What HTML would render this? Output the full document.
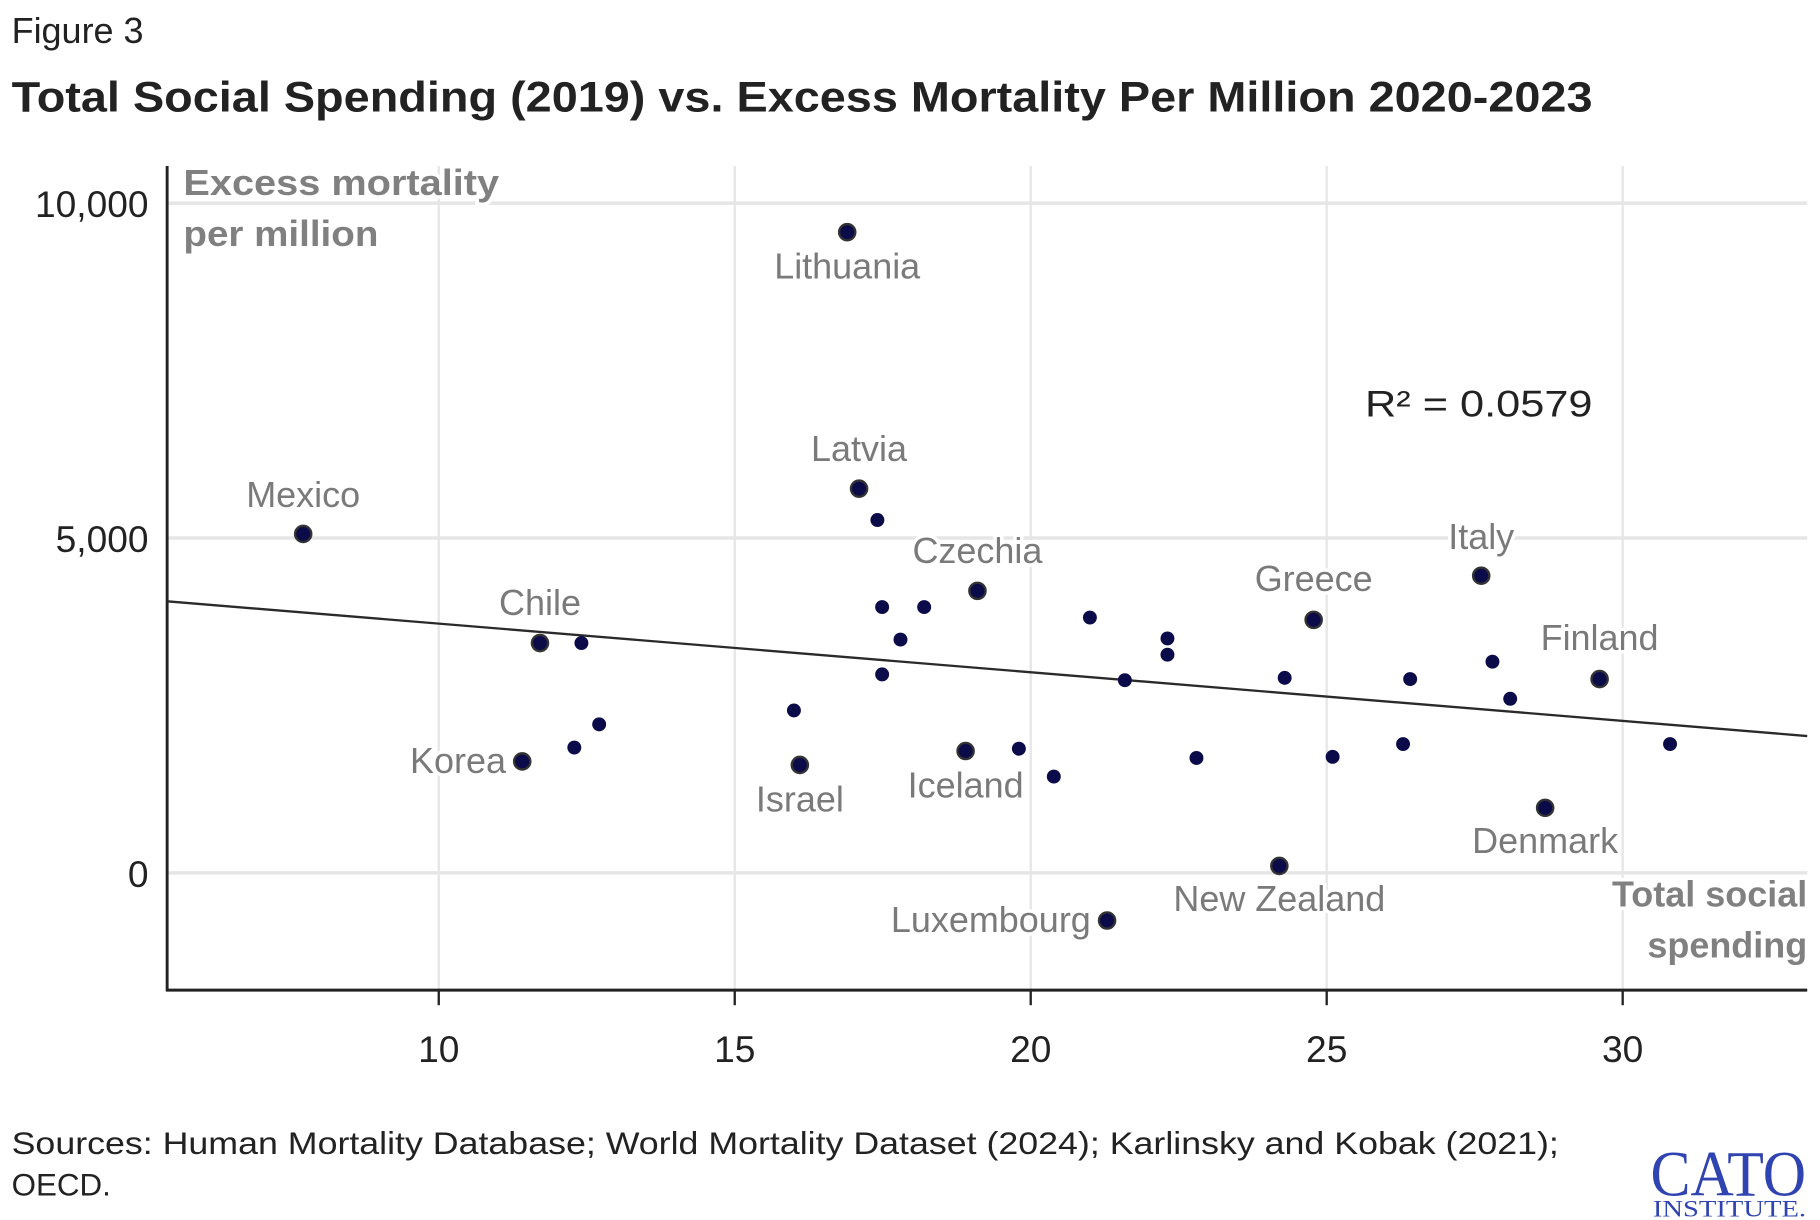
<!DOCTYPE html>
<html><head><meta charset="utf-8"><style>
html,body{margin:0;padding:0;background:#fff;}
svg{display:block;}
text{font-family:"Liberation Sans",sans-serif;}
.lbl{fill:#7a7a7a;font-size:31px;stroke:#fff;stroke-width:6px;paint-order:stroke;stroke-linejoin:round;}
.tick{fill:#222;font-size:32px;}
.axt{fill:#808080;font-size:31px;font-weight:bold;stroke:#fff;stroke-width:6px;paint-order:stroke;}
</style></head><body>
<svg id="chart" width="1820" height="1220" viewBox="0 0 1568 1051" xmlns="http://www.w3.org/2000/svg">
<text x="10" y="37" style="font-size:31px;fill:#222">Figure 3</text>
<text x="10" y="96" textLength="1362" lengthAdjust="spacingAndGlyphs" style="font-size:37px;font-weight:bold;fill:#222">Total Social Spending (2019) vs. Excess Mortality Per Million 2020-2023</text>
<g id="grid"></g>
<g id="trend"></g>
<g id="points"></g>
<g id="labels"></g>
<text class="axt" x="158" y="168" textLength="272" lengthAdjust="spacingAndGlyphs">Excess mortality</text>
<text class="axt" x="158" y="212" textLength="168" lengthAdjust="spacingAndGlyphs">per million</text>
<text class="axt" x="1557" y="781" text-anchor="end">Total social</text>
<text class="axt" x="1557" y="825" text-anchor="end">spending</text>
<text x="1176" y="359" textLength="196" lengthAdjust="spacingAndGlyphs" style="font-size:32px;fill:#222">R² = 0.0579</text>
<text x="10" y="994" textLength="1333" lengthAdjust="spacingAndGlyphs" style="font-size:27px;fill:#222">Sources: Human Mortality Database; World Mortality Dataset (2024); Karlinsky and Kobak (2021);</text>
<text x="10" y="1030" style="font-size:27px;fill:#222">OECD.</text>
<text x="1422" y="1030" textLength="134" lengthAdjust="spacingAndGlyphs" style="font-family:'Liberation Serif',serif;font-size:56px;fill:#2f44b0">CATO</text>
<text x="1424" y="1048" textLength="132" lengthAdjust="spacingAndGlyphs" style="font-family:'Liberation Serif',serif;font-size:20px;fill:#2f44b0">INSTITUTE.</text>
</svg>
<script>
const countries=["Mexico","Lithuania","Latvia","","Czechia","","","","","Chile","","","","Korea","","Israel","Iceland","","","","","","","","Greece","","","New Zealand","Luxembourg","Italy","","","","Finland","","","Denmark"];
const spending=[7.71,16.90,17.10,17.41,19.10,17.49,18.20,17.80,17.49,11.71,12.41,12.71,12.29,11.41,16.0,16.10,18.90,19.80,20.39,21.0,21.59,22.31,22.31,22.80,24.78,24.29,25.10,24.20,21.29,27.61,27.80,26.41,28.10,29.61,26.29,30.80,28.69];
const mortality=[5061,9567,5737,5269,4211,3969,3969,3484,2964,3432,3432,2218,1872,1664,2426,1612,1820,1854,1438,3813,2877,3501,3258,1716,3778,2912,1733,104,-711,4437,3154,2894,2600,2894,1924,1924,971];
const xTicks=[10,15,20,25,30];
const yTicks=[0,5000,10000];
const yTickLabels=["0","5,000","10,000"];
const trendIntercept=4448, trendSlope=-72.6;
const labelPos={Mexico:[0,-23,"middle"],Lithuania:[0,40,"middle"],Latvia:[0,-24,"middle"],Czechia:[0,-24,"middle"],Chile:[0,-24,"middle"],Korea:[-14,10,"end"],Israel:[0,40,"middle"],Iceland:[0,40,"middle"],Greece:[0,-25,"middle"],Italy:[0,-23,"middle"],Finland:[0,-25,"middle"],Denmark:[0,39,"middle"],"New Zealand":[0,39,"middle"],Luxembourg:[-14,10,"end"]};
const NS="http://www.w3.org/2000/svg";
const L=144,R=1557,T=143,B=853;
const xs=v=>378+(v-10)*51;
const ys=v=>752-v*288.5/5000;
function mk(tag,at,parent){const e=document.createElementNS(NS,tag);for(const k in at)e.setAttribute(k,at[k]);parent.appendChild(e);return e;}
const grid=document.getElementById('grid');
xTicks.forEach((t,i)=>{
  const g=mk('line',{x1:xs(t),x2:xs(t),y1:T,y2:B,stroke:'#e6e6e6','stroke-width':2},grid);
  
  
  const tk=mk('line',{x1:xs(t),x2:xs(t),y1:B,y2:B+13,stroke:'#222','stroke-width':2},grid);
  
  
  const tx=mk('text',{x:xs(t),y:915,'text-anchor':'middle',class:'tick'},grid);tx.textContent=t;
  
  
});
yTicks.forEach((t,i)=>{
  const g=mk('line',{x1:L,x2:R,y1:ys(t),y2:ys(t),stroke:'#e6e6e6','stroke-width':3},grid);
  
  
  const tx=mk('text',{x:128,y:ys(t)+12,'text-anchor':'end',class:'tick'},grid);tx.textContent=yTickLabels[i];
  
  
});
const ya=mk('line',{x1:L,x2:L,y1:T,y2:B+1,stroke:'#222','stroke-width':2.5},grid);


const xa=mk('line',{x1:L-1,x2:R,y1:B,y2:B,stroke:'#222','stroke-width':2.5},grid);


const x0=(L-378)/51+10,x1=(R-378)/51+10;
const tl=mk('line',{x1:L,x2:R,y1:ys(trendIntercept+trendSlope*x0),y2:ys(trendIntercept+trendSlope*x1),stroke:'#2a2a2a','stroke-width':2},document.getElementById('trend'));


const pg=document.getElementById('points'),lg=document.getElementById('labels');
spending.forEach((s,i)=>{
  const name=countries[i];const cx=xs(s),cy=ys(mortality[i]);
  const c=mk('circle',{cx:cx,cy:cy,r:name?7:6,fill:'#0b0b4a',stroke:name?'#333':'none','stroke-width':name?2:0},pg);
  
  
  if(name){const p=labelPos[name];
    const t=mk('text',{x:cx+p[0],y:cy+p[1],'text-anchor':p[2],class:'lbl'},lg);t.textContent=name;
    
    
  }
});
</script>
</body></html>
